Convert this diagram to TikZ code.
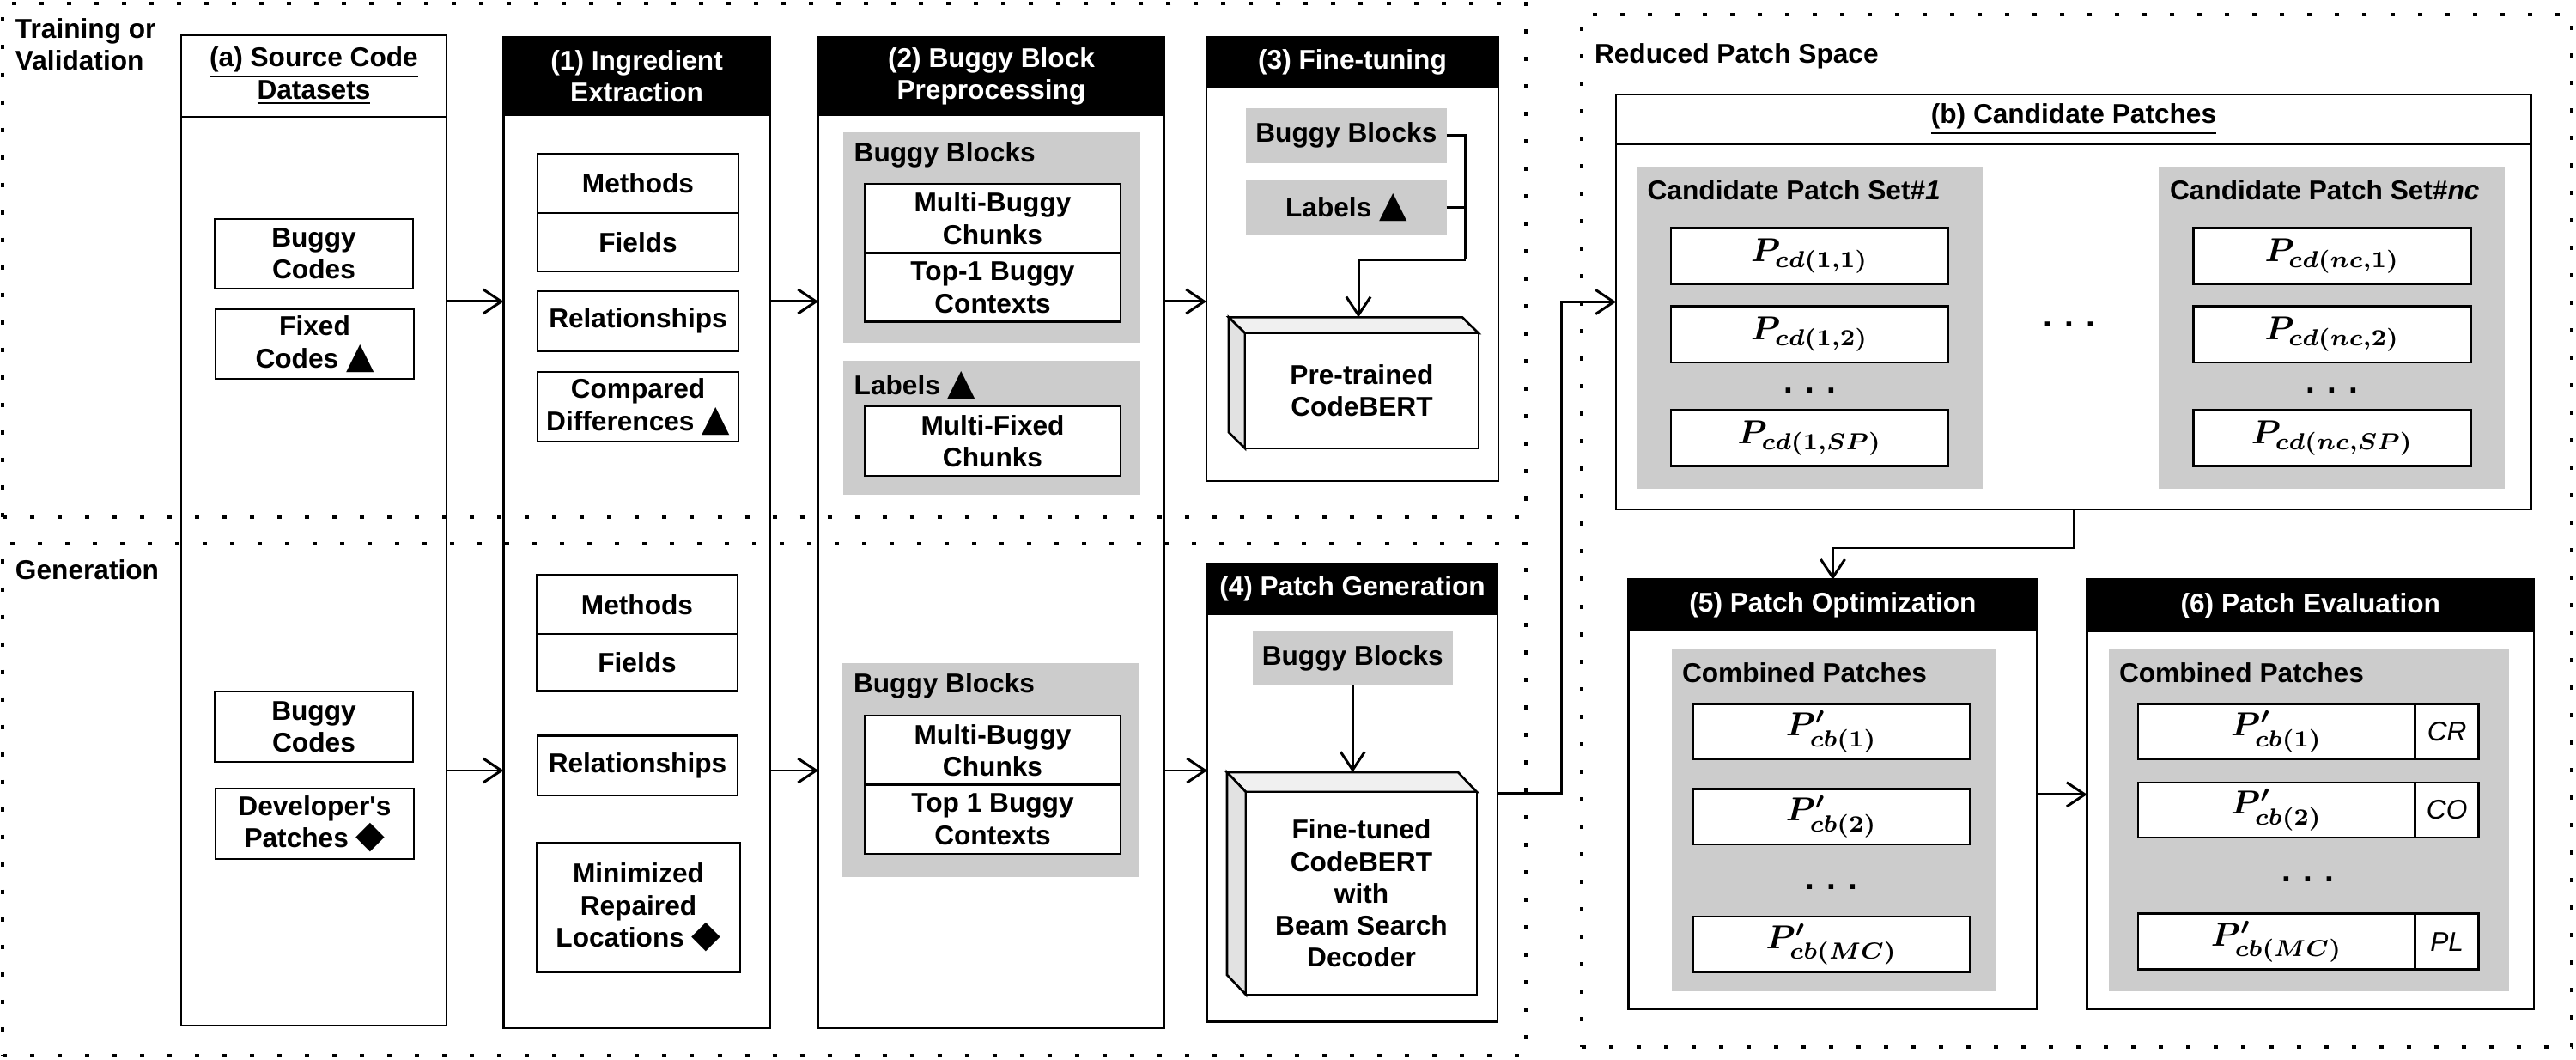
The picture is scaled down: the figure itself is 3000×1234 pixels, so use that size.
\documentclass[tikz,border=0pt]{standalone}
\usepackage{fix-cm}
\usepackage{amsmath}
\usepackage[no-math]{fontspec}
\setmainfont{Liberation Sans}[Ligatures=TeXOff]
\newfontfamily\symfont{DejaVu Sans}
\usetikzlibrary{arrows.meta,calc}
\newcommand{\mytri}{{\symfont\fontsize{12}{10}\selectfont ▲}}
\newcommand{\mydia}{{\symfont\fontsize{12.5}{10}\selectfont ◆}}
\definecolor{grayfill}{HTML}{CCCCCC}
\definecolor{cubetop}{HTML}{F0F0F0}
\definecolor{cubeside}{HTML}{E2E2E2}
\tikzset{
  every node/.style={font=\fontsize{9}{10.6}\selectfont\bfseries, inner sep=0pt, outer sep=0pt},
  box/.style={draw=black, line width=0.75pt, fill=white, align=center},
  hdr/.style={draw=black, line width=0.75pt, fill=black, text=white, align=center},
  grp/.style={fill=grayfill, draw=none, align=center},
  region/.style={draw=black, line width=1.3pt, dash pattern=on 0.05cm off 0.27cm},
  arr/.style={line width=0.85pt, -{Straight Barb[length=6pt,width=8pt]}},
  conn/.style={line width=0.85pt},
  lbl/.style={anchor=west, align=left},
  mth/.style={font=\fontsize{11}{12}\selectfont\boldmath},
  ital/.style={font=\fontsize{9}{10.6}\selectfont\mdseries\itshape},
  dotsty/.style={font=\fontsize{11}{12}\selectfont\bfseries},
  cubeline/.style={draw=black, line width=0.75pt},
}
\newcommand{\pbox}[7]{\node[#6, minimum width={(#4-#2)*0.01cm}, minimum height={(#5-#3)*0.01cm}] (#1) at ({(#2+#4)/2},{(#3+#5)/2}) {#7};}
\newcommand{\mycube}[8]{%
  \filldraw[cubeline, fill=cubetop] (#2,#3) -- ({#2-#6},{#3-#7}) -- ({#4-#6},{#3-#7}) -- (#4,#3) -- cycle;
  \filldraw[cubeline, fill=cubeside] (#2,#3) -- ({#2-#6},{#3-#7}) -- ({#2-#6},{#5-#7}) -- (#2,#5) -- cycle;
  \coordinate (#1-back) at ({#2-#6},{#3-#7});
  \pbox{#1}{#2}{#3}{#4}{#5}{box}{#8}
}
\begin{document}
\begin{tikzpicture}[x=0.01cm,y=-0.01cm]
\useasboundingbox (0,0) rectangle (3000,1234);
\fill[white] (0,0) rectangle (3000,1234);

% regions
\pbox{regT}{3}{4}{1777}{602}{region}{}
\pbox{regG}{3}{633}{1777}{1229}{region}{}
\pbox{regR}{1842}{17}{2995}{1219}{region}{}
\node[lbl] (lT) at (18,52) {Training or\\Validation};
\node[lbl] (lG) at (18,663) {Generation};
\node[lbl] (lR) at (1857,65) {Reduced Patch Space};

% big boxes
\pbox{srcA}{211}{41}{520}{1194}{box,fill=none}{}
\pbox{srcAh}{211}{41}{520}{136}{box}{\underline{(a) Source Code}\\\underline{Datasets}}
\pbox{ing}{586.5}{43.5}{896.7}{1197}{box,fill=none}{}
\pbox{ingh}{586.5}{43.5}{896.7}{133.6}{hdr}{(1) Ingredient\\Extraction}
\pbox{bbp}{953}{43.5}{1356}{1197}{box,fill=none}{}
\pbox{bbph}{953}{43.5}{1356}{133.6}{hdr}{(2) Buggy Block\\Preprocessing}
\pbox{ft}{1405}{43.5}{1745}{560}{box,fill=none}{}
\pbox{fth}{1405}{43.5}{1745}{101}{hdr}{(3) Fine-tuning}
\pbox{pg}{1406}{656.6}{1744}{1189.5}{box,fill=none}{}
\pbox{pgh}{1406}{656.6}{1744}{715}{hdr}{(4) Patch Generation}
\pbox{cand}{1882}{110}{2948}{593}{box,fill=none}{}
\pbox{candh}{1882}{110}{2948}{168}{box}{\underline{(b) Candidate Patches}}
\pbox{po}{1896.4}{674.8}{2372.5}{1175}{box,fill=none}{}
\pbox{poh}{1896.4}{674.8}{2372.5}{734}{hdr}{(5) Patch Optimization}
\pbox{pe}{2430.6}{674.8}{2951}{1175}{box,fill=none}{}
\pbox{peh}{2430.6}{674.8}{2951}{735}{hdr}{(6) Patch Evaluation}

% (a) inner
\pbox{bcT}{250}{255}{481}{336}{box}{Buggy\\Codes}
\pbox{fcT}{251}{360}{482}{441}{box}{Fixed\\Codes \mytri}
\pbox{bcG}{250}{805}{481}{887}{box}{Buggy\\Codes}
\pbox{dpG}{251}{918}{482}{1000}{box}{Developer's\\Patches \mydia}

% (1) inner
\pbox{methT}{626}{179}{860}{248}{box}{Methods}
\pbox{fldT}{626}{248}{860}{316}{box}{Fields}
\pbox{relT}{626}{339}{860}{408.5}{box}{Relationships}
\pbox{cmpT}{626}{433}{860}{514}{box}{Compared\\Differences \mytri}
\pbox{methG}{625}{669.5}{859}{738}{box}{Methods}
\pbox{fldG}{625}{738}{859}{804.6}{box}{Fields}
\pbox{relG}{626}{856.7}{859}{926}{box}{Relationships}
\pbox{minG}{625}{981}{862}{1131.6}{box}{Minimized\\Repaired\\Locations \mydia}

% (2) inner
\pbox{gbbT}{981.5}{154}{1327.6}{399}{grp}{}
\node[lbl] (gbbTl) at (994.7,180) {Buggy Blocks};
\pbox{mbcT}{1007}{214}{1305}{294.6}{box}{Multi-Buggy\\Chunks}
\pbox{t1T}{1007}{294.6}{1305}{374.8}{box}{Top-1 Buggy\\Contexts}
\pbox{glbT}{981.5}{420}{1327.6}{576}{grp}{}
\node[lbl] (glbTl) at (994.7,449) {Labels \mytri};
\pbox{mfcT}{1007}{473}{1305}{554}{box}{Multi-Fixed\\Chunks}
\pbox{gbbG}{981}{772}{1327}{1020.5}{grp}{}
\node[lbl] (gbbGl) at (994,798) {Buggy Blocks};
\pbox{mbcG}{1007}{833}{1305}{913.7}{box}{Multi-Buggy\\Chunks}
\pbox{t1G}{1007}{913.7}{1305}{994}{box}{Top 1 Buggy\\Contexts}

% (3) inner
\pbox{bb3}{1451}{125.7}{1684.7}{190}{grp}{Buggy Blocks}
\pbox{lb3}{1451}{210}{1684.7}{274}{grp}{Labels \mytri}
\mycube{cb3}{1450}{388}{1722}{522}{19}{18.6}{Pre-trained\\CodeBERT}

% (4) inner
\pbox{bb4}{1458.6}{734}{1692}{798}{grp}{Buggy Blocks}
\mycube{cb4}{1451}{922}{1720}{1158}{22}{23}{Fine-tuned\\CodeBERT\\with\\Beam Search\\Decoder}

% (b) inner
\pbox{gs1}{1905.6}{194.5}{2309}{569}{grp}{}
\node[lbl] (gs1l) at (1918.6,221) {Candidate Patch Set\#\textit{1}};
\pbox{p11}{1946}{265.7}{2269}{331}{box,mth}{$P_{cd(1,1)}$}
\pbox{p12}{1946}{356.6}{2269}{422}{box,mth}{$P_{cd(1,2)}$}
\node[dotsty] (d1) at (2107.5,455) {. . .};
\pbox{p1s}{1946}{477.6}{2269}{542.5}{box,mth}{$P_{cd(1,SP)}$}
\node[dotsty] (dm) at (2410,378) {. . .};
\pbox{gsn}{2514}{194.5}{2917}{569}{grp}{}
\node[lbl] (gsnl) at (2527,221) {Candidate Patch Set\#\textit{nc}};
\pbox{pn1}{2554.6}{265.7}{2877.5}{331}{box,mth}{$P_{cd(nc,1)}$}
\pbox{pn2}{2554.6}{356.6}{2877.5}{422}{box,mth}{$P_{cd(nc,2)}$}
\node[dotsty] (dn) at (2716,455) {. . .};
\pbox{pns}{2554.6}{477.6}{2877.5}{542.5}{box,mth}{$P_{cd(nc,SP)}$}

% (5) inner
\pbox{g5}{1947}{755}{2325}{1154}{grp}{}
\node[lbl] (g5l) at (1959,782.7) {Combined Patches};
\pbox{q1}{1971.4}{819.5}{2294.4}{884}{box,mth}{$P'_{cb(1)}$}
\pbox{q2}{1971.4}{918.6}{2294.4}{983}{box,mth}{$P'_{cb(2)}$}
\node[dotsty] (d5) at (2133,1033) {. . .};
\pbox{q3}{1971.4}{1067}{2294.4}{1131.6}{box,mth}{$P'_{cb(MC)}$}

% (6) inner
\pbox{g6}{2456}{755}{2922}{1154}{grp}{}
\node[lbl] (g6l) at (2468,782.7) {Combined Patches};
\pbox{r1}{2490}{819.5}{2812.5}{884}{box,mth}{$P'_{cb(1)}$}
\pbox{s1}{2812.5}{819.5}{2886.7}{884}{box,ital}{CR}
\pbox{r2}{2490}{911}{2812.5}{975}{box,mth}{$P'_{cb(2)}$}
\pbox{s2}{2812.5}{911}{2886.7}{975}{box,ital}{CO}
\node[dotsty] (d6) at (2688,1024) {. . .};
\pbox{r3}{2490}{1063.7}{2812.5}{1128.8}{box,mth}{$P'_{cb(MC)}$}
\pbox{s3}{2812.5}{1063.7}{2886.7}{1128.8}{box,ital}{PL}

% connectors
\coordinate (rowT) at (0,351);
\coordinate (rowG) at (0,897);
\draw[arr] (srcA.east |- rowT) -- (ing.west |- rowT);
\draw[arr] (ing.east |- rowT) -- (bbp.west |- rowT);
\draw[arr] (bbp.east |- rowT) -- (ft.west |- rowT);
\draw[arr] (srcA.east |- rowG) -- (ing.west |- rowG);
\draw[arr] (ing.east |- rowG) -- (bbp.west |- rowG);
\draw[arr] (bbp.east |- rowG) -- (pg.west |- rowG);

\coordinate (j3) at (1706.5,302.5);
\coordinate (c3in) at (1582,369.4);
\draw[conn] (bb3.east) -| (j3);
\draw[conn] (lb3.east) -- (lb3.east -| j3);
\draw[arr] (j3) -| (c3in);

\draw[arr] (bb4.south) -- (bb4.south |- cb4-back);

\coordinate (j4) at (1818,351.5);
\draw[arr] (pg.east) -| (j4) -- (cand.west);

\coordinate (j5) at (2415,638);
\draw[arr] (cand.south) -- (j5) -| (po.north);

\draw[arr] (po.east) -- (pe.west);
\end{tikzpicture}
\end{document}
